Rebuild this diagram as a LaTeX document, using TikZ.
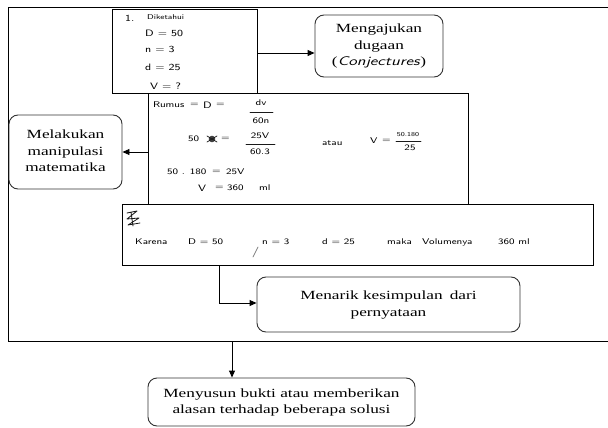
\documentclass[tikz,border=0pt]{standalone}
\usepackage{fontspec}
\usepackage{graphicx}
\setmainfont{Liberation Serif}
\usetikzlibrary{arrows.meta}
% printed labels are set a little wide
\newcommand\widen[1]{\scalebox{1.38}[1]{#1}}
% handwritten working
\newcommand\hw[1]{\scalebox{1.25}[1]{#1}}
\tikzset{
  frame/.style={line width=1pt},
  sheet/.style={draw, line width=0.9pt, inner sep=0pt},
  stage/.style={draw=black!80, line width=0.9pt, rounded corners=9pt, inner sep=0pt,
                align=center, font=\fontsize{12.5}{16.5}\selectfont},
  arr/.style={line width=0.9pt, -{Triangle[length=7pt,width=6pt]}},
  hand/.style={anchor=west, inner sep=0pt, text=black,
               font=\sffamily\fontsize{8.3}{9}\selectfont},
  handc/.style={hand, anchor=center},
  big/.style={font=\sffamily\fontsize{9.3}{10}\selectfont},
  pen/.style={line width=0.7pt, black!90, line cap=round, line join=round},
}
\begin{document}
\begin{tikzpicture}[x=1pt,y=-1pt]
\useasboundingbox (0,0) rectangle (608,428);

% outer frame (open to the right)
\coordinate (ftr) at (608,8);
\coordinate (ftl) at (8,8);
\coordinate (fbl) at (8,341);
\coordinate (fbr) at (608,341);
\draw[frame] (ftr) -- (ftl) -- (fbl) -- (fbr);

% worked solution sheets
\node[sheet, minimum width=145pt, minimum height=84pt] (given) at (184.5,51) {};
\node[sheet, minimum width=320pt, minimum height=111pt] (work) at (308,148.5) {};
\node[sheet, minimum width=471pt, minimum height=61pt] (concl) at (357.5,234.5) {};

% stages
\node[stage, minimum width=128pt, minimum height=62pt] (conj) at (379,46)
  {\widen{\begin{tabular}{@{}c@{}}Mengajukan\\dugaan\\(\textsf{\textit{Conjectures}})\end{tabular}}};
\node[stage, minimum width=113pt, minimum height=74pt] (manip) at (65.5,152)
  {\widen{\begin{tabular}{@{}c@{}}Melakukan\\manipulasi\\matematika\end{tabular}}};
\node[stage, minimum width=263pt, minimum height=55pt] (draw) at (388.5,304.5)
  {\widen{\begin{tabular}{@{}c@{}}Menarik kesimpulan\, dari\\pernyataan\end{tabular}}};
\node[stage, minimum width=267pt, minimum height=48pt] (proof) at (281.5,402)
  {\widen{\begin{tabular}{@{}c@{}}Menyusun bukti atau memberikan\\alasan terhadap beberapa solusi\end{tabular}}};

% connectors
\draw[arr] ([yshift=-2pt]given.east) -- ([yshift=-2pt]given.east -| conj.west);
\draw[arr] ([yshift=-3.5pt]work.west) -- ([yshift=-3.5pt]work.west -| manip.east);
\coordinate (bend) at (219,303);
\draw[arr] (bend |- concl.south) -- (bend) -- (bend -| draw.west);
\coordinate (drop) at (232,341);
\draw[arr] (drop) -- (drop |- proof.north);

% --- handwritten: given data
\node[hand, big] (g1) at (125,18) {\hw{1.}};
\node[hand, font=\sffamily\fontsize{7}{8}\selectfont] (g2) at (147,17) {\hw{Diketahui}};
\node[hand, big] (g3) at (145,33) {\hw{D = 50}};
\node[hand, big] (g4) at (145,49) {\hw{n = 3}};
\node[hand, big] (g5) at (145,67) {\hw{d = 25}};
\node[hand, big] (g6) at (150,86) {\hw{V = ?}};

% --- handwritten: formula and working
\node[hand] (r1) at (153,105) {\hw{Rumus}};
\node[hand] (r2) at (190,105) {\hw{=}};
\node[hand, big] (r3) at (203,105) {\hw{D}};
\node[hand] (r4) at (216,105) {\hw{=}};
\node[handc] (r5) at (261,103) {\hw{dv}};
\draw[pen] (250,112) -- (273,112);
\node[handc] (r6) at (261,121) {\hw{60n}};

\node[hand] (r7) at (188,139) {\hw{50}};
\fill[black!75] (212,139) circle (3.3);
\draw[pen] (207,136) -- (217,142) (207,142) -- (217,136);
\node[hand] (r8) at (221,139) {\hw{=}};
\node[handc] (r9) at (260,136) {\hw{25V}};
\draw[pen] (246,144) -- (275,144);
\node[handc] (r10) at (260,152) {\hw{60.3}};

\node[hand] (r11) at (322,143) {\hw{atau}};
\node[hand] (r12) at (370,141) {\hw{V}};
\node[hand] (r13) at (382,141) {\hw{=}};
\node[handc, font=\sffamily\fontsize{6}{7}\selectfont] (r14) at (408,135) {\hw{50.180}};
\draw[pen] (396,141) -- (421,141);
\node[handc] (r15) at (410,148) {\hw{25}};

\node[hand] (r16) at (167,172) {\hw{50 . 180}};
\node[hand] (r17) at (212,172) {\hw{=}};
\node[hand] (r18) at (226,172) {\hw{25V}};

\node[hand, big] (r19) at (198,188) {\hw{V}};
\node[hand] (r20) at (215,188) {\hw{=}};
\node[hand] (r21) at (227,188) {\hw{360}};
\node[hand] (r22) at (259,188) {\hw{ml}};

% --- handwritten: conclusion
\draw[pen, line width=0.8pt] (127,213) -- (137,211) -- (127,219) -- (139,218) -- (128,225) -- (140,223)
  (131,212) -- (133,226);
\node[hand] (k1) at (135,242) {\hw{Karena}};
\node[hand] (k2) at (188,242) {\hw{D = 50}};
\draw[pen, black!50] (253,257) -- (258,247);
\node[hand] (k3) at (262,242) {\hw{n = 3}};
\node[hand] (k4) at (322,242) {\hw{d = 25}};
\node[hand] (k5) at (387,242) {\hw{maka}};
\node[hand] (k6) at (422,242) {\hw{Volumenya}};
\node[hand] (k7) at (498,242) {\hw{360 ml}};
\end{tikzpicture}
\end{document}
